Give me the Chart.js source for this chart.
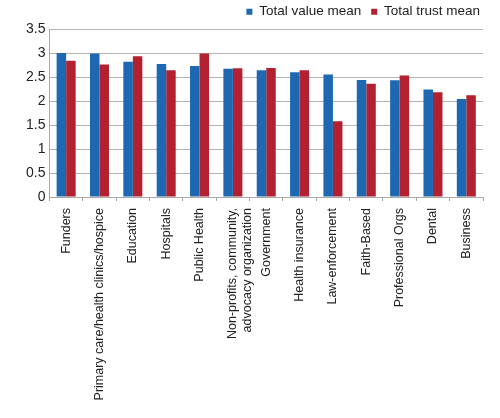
<!DOCTYPE html>
<html>
<head>
<meta charset="utf-8">
<script src="https://cdn.jsdelivr.net/npm/chart.js@4/dist/chart.umd.min.js"></script>
<style>
  body { margin: 0; background: #fff; }
  #wrap { width: 500px; height: 418px; position: relative; }
</style>
</head>
<body>
<div id="wrap"><canvas id="trustChart"></canvas></div>
<script>
const categories = [
    'Funders',
    'Primary care/health clinics/hospice',
    'Education',
    'Hospitals',
    'Public Health',
    ['Non-profits, community,', 'advocacy organization'],
    'Government',
    'Health insurance',
    'Law-enforcement',
    'Faith-Based',
    'Professional Orgs',
    'Dental',
    'Business'
];
const valueMean = [3.00, 2.99, 2.82, 2.77, 2.73, 2.67, 2.64, 2.60, 2.55, 2.44, 2.43, 2.24, 2.04];
const trustMean = [2.84, 2.76, 2.93, 2.64, 2.99, 2.68, 2.69, 2.64, 1.58, 2.36, 2.53, 2.18, 2.12];

// fix the legend block height so the plot starts where the original does,
// and nudge the legend a bit further right
const legendHeight = {
    id: 'legendHeight',
    beforeInit(chart) {
        const origFit = chart.legend.fit;
        chart.legend.fit = function() {
            origFit.call(this);
            this.height = 34;
        };
    },
    afterLayout(chart) {
        chart.legend.left += 7;
        chart.legend.right += 7;
    }
};

const ctx = document.getElementById('trustChart').getContext('2d');
new Chart(ctx, {
    type: 'bar',
    data: {
        labels: categories,
        datasets: [
            {
                label: 'Total value mean',
                data: valueMean,
                backgroundColor: '#1d68b0',
                categoryPercentage: 0.57,
                barPercentage: 1
            },
            {
                label: 'Total trust mean',
                data: trustMean,
                backgroundColor: '#b3202f',
                categoryPercentage: 0.57,
                barPercentage: 1
            }
        ]
    },
    options: {
        responsive: true,
        maintainAspectRatio: false,
        animation: false,
        layout: {
            padding: { left: 22, right: 17, top: -5, bottom: 0 }
        },
        scales: {
            x: {
                afterFit: function(scale) { scale.height = 221; },
                grid: {
                    display: true,
                    drawOnChartArea: false,
                    offset: true,
                    tickLength: 4,
                    color: '#a8a8a8'
                },
                border: { color: '#a8a8a8' },
                ticks: {
                    maxRotation: 90,
                    minRotation: 90,
                    autoSkip: false,
                    padding: 7,
                    color: '#222',
                    font: { family: 'Liberation Sans, Arial', size: 12.5 }
                }
            },
            y: {
                min: 0,
                max: 3.5,
                ticks: {
                    stepSize: 0.5,
                    color: '#222',
                    padding: 4,
                    font: { family: 'Liberation Sans, Arial', size: 14 },
                    callback: function(value) { return String(value); }
                },
                grid: {
                    color: '#b4b4b4',
                    drawTicks: false
                },
                border: { color: '#a8a8a8' }
            }
        },
        plugins: {
            legend: {
                display: true,
                position: 'top',
                align: 'end',
                labels: {
                    boxWidth: 6,
                    boxHeight: 6,
                    padding: 10,
                    color: '#222',
                    font: { family: 'Liberation Sans, Arial', size: 13.5 }
                }
            },
            tooltip: { enabled: false }
        }
    },
    plugins: [legendHeight]
});
</script>
</body>
</html>
